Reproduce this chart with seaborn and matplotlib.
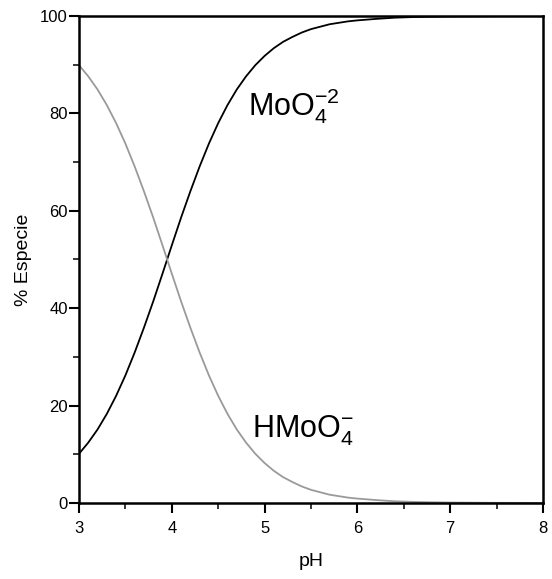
import matplotlib
matplotlib.use("Agg")
import matplotlib.pyplot as plt
import numpy as np
import pandas as pd
import seaborn as sns

# Data
ph = [3.0, 3.1, 3.2, 3.3, 3.4, 3.5, 3.6, 3.7, 3.8, 3.9,
      4.0, 4.1, 4.2, 4.3, 4.4, 4.5, 4.6, 4.7, 4.8, 4.9,
      5.0, 5.1, 5.2, 5.3, 5.4, 5.5, 5.6, 5.7, 5.8, 5.9,
      6.0, 6.2, 6.4, 6.6, 6.8, 7.0, 7.5, 8.0]
moo4 = [10.1, 12.4, 15.1, 18.3, 22.0, 26.2, 30.9, 36.0, 41.4, 47.1,
        52.9, 58.6, 64.0, 69.1, 73.8, 78.0, 81.7, 84.9, 87.6, 89.9,
        91.8, 93.4, 94.7, 95.7, 96.6, 97.3, 97.8, 98.3, 98.6, 98.9,
        99.1, 99.4, 99.65, 99.78, 99.86, 99.91, 99.97, 99.99]
hmoo4 = [89.9, 87.6, 84.9, 81.7, 78.0, 73.8, 69.1, 64.0, 58.6, 52.9,
         47.1, 41.4, 36.0, 30.9, 26.2, 22.0, 18.3, 15.1, 12.4, 10.1,
         8.2, 6.6, 5.3, 4.3, 3.4, 2.7, 2.2, 1.7, 1.4, 1.1,
         0.9, 0.6, 0.35, 0.22, 0.14, 0.09, 0.03, 0.01]

df = pd.DataFrame({"pH": ph + ph,
                   "pct": moo4 + hmoo4,
                   "species": ["MoO4"] * len(ph) + ["HMoO4"] * len(ph)})

sns.set_style("ticks")
plt.rcParams['font.family'] = ['Liberation Sans', 'DejaVu Sans']
plt.rcParams['mathtext.fontset'] = 'custom'
plt.rcParams['mathtext.rm'] = 'Liberation Sans'
plt.rcParams['text.color'] = 'black'
plt.rcParams['axes.labelcolor'] = 'black'

fig = plt.figure(figsize=(5.52, 5.79), dpi=100)
ax = fig.add_axes([0.1431, 0.1313, 0.8406, 0.8411])

sns.lineplot(data=df, x="pH", y="pct", hue="species",
             palette={"MoO4": "black", "HMoO4": "#9a9a9a"},
             linewidth=1.3, legend=False, ax=ax)

ax.set_xlim(3, 8)
ax.set_ylim(0, 100)
ax.set_xticks([3, 4, 5, 6, 7, 8])
ax.set_xticks(np.arange(3.5, 8, 1), minor=True)
ax.set_yticks([0, 20, 40, 60, 80, 100])
ax.set_yticks(np.arange(10, 100, 20), minor=True)

ax.tick_params(which='major', direction='out', length=7, width=1.5,
               labelsize=12, colors='black', labelcolor='black')
ax.tick_params(axis='x', which='major', pad=6)
ax.tick_params(axis='y', which='major', pad=1)
ax.tick_params(which='minor', direction='out', length=4, width=1.3)

for side in ['left', 'bottom', 'top', 'right']:
    ax.spines[side].set_visible(True)
    ax.spines[side].set_linewidth(1.8)
    ax.spines[side].set_color('black')

ax.set_xlabel('pH', fontsize=14, labelpad=12)
ax.set_ylabel('% Especie', fontsize=14, labelpad=6)

ax.text(4.82, 79.5, r'$\mathregular{MoO_4^{-2}}$', fontsize=22, color='black')
ax.text(4.86, 13.5, r'$\mathregular{HMoO_4^{-}}$', fontsize=22, color='black')

fig.savefig('out.png', dpi=100)
